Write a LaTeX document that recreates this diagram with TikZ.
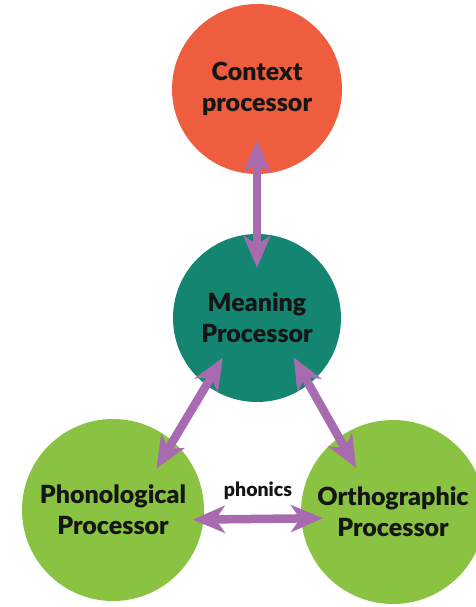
\documentclass[tikz,border=0pt]{standalone}
\usepackage{fontspec}
\setmainfont{Lato}[BoldFont={Lato Black}]
\usetikzlibrary{arrows.meta}
\definecolor{ctxorange}{HTML}{EE5E3E}
\definecolor{meanteal}{HTML}{138571}
\definecolor{procgreen}{HTML}{8AC341}
\definecolor{linkpurple}{HTML}{A96BB0}
\definecolor{inkblack}{HTML}{151515}
\tikzset{
  proc/.style={circle, draw=none, inner sep=0pt, align=center,
    text=inkblack, font=\bfseries\fontsize{25}{31}\selectfont},
  link/.style={line width=8.5pt, draw=linkpurple,
    {Stealth[length=32pt, width=27pt, inset=9pt]}-{Stealth[length=32pt, width=27pt, inset=9pt]}},
  lbl/.style={text=inkblack, font=\bfseries\fontsize{19.5}{22}\selectfont}
}
\begin{document}
\begin{tikzpicture}[x=1pt, y=-1pt]
  \useasboundingbox (0,0) rectangle (475,607);
  % processors
  \node[proc, fill=ctxorange, minimum size=170pt] (ctx) at (257,89) {Context\\processor};
  \node[proc, fill=meanteal, minimum size=168pt] (mean) at (257,318) {Meaning\\Processor};
  \node[proc, fill=procgreen, minimum size=182pt] (phon) at (113,510) {Phonological\\Processor};
  \node[proc, fill=procgreen, minimum size=184pt] (orth) at (393,512) {Orthographic\\Processor};
  % links between processors
  \draw[link, shorten <=-34pt, shorten >=-34pt] (ctx.south) -- (mean.north);
  \draw[link, shorten <=-32pt, shorten >=-32pt] (mean.233) -- (phon.49);
  \draw[link, shorten <=-31pt, shorten >=-35pt] (mean.308) -- (orth.126);
  \draw[link, shorten <=-11pt, shorten >=-22pt] (phon.-6) -- (orth.184);
  \node[lbl] (phonics) at (258,491) {phonics};
\end{tikzpicture}
\end{document}
